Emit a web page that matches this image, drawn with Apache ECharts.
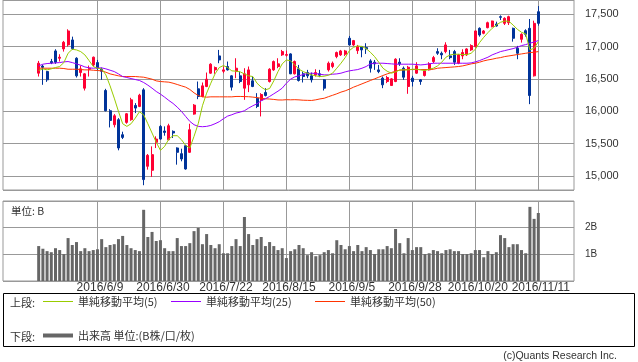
<!DOCTYPE html>
<html><head><meta charset="utf-8">
<script src="https://cdn.jsdelivr.net/npm/echarts@6/dist/echarts.min.js"></script>
<style>html,body{margin:0;padding:0;background:#fff}#c{width:638px;height:362px}</style>
</head><body><div id="c"></div>
<script>
const dates = ['2016/5/20','2016/5/23','2016/5/24','2016/5/25','2016/5/26','2016/5/27','2016/5/30','2016/5/31',
'2016/6/1','2016/6/2','2016/6/3','2016/6/6','2016/6/7','2016/6/8','2016/6/9','2016/6/10','2016/6/13','2016/6/14','2016/6/15','2016/6/16','2016/6/17','2016/6/20','2016/6/21','2016/6/22','2016/6/23','2016/6/24','2016/6/27','2016/6/28','2016/6/29','2016/6/30',
'2016/7/1','2016/7/4','2016/7/5','2016/7/6','2016/7/7','2016/7/8','2016/7/11','2016/7/12','2016/7/13','2016/7/14','2016/7/15','2016/7/19','2016/7/20','2016/7/21','2016/7/22','2016/7/25','2016/7/26','2016/7/27','2016/7/28','2016/7/29',
'2016/8/1','2016/8/2','2016/8/3','2016/8/4','2016/8/5','2016/8/8','2016/8/9','2016/8/10','2016/8/12','2016/8/15','2016/8/16','2016/8/17','2016/8/18','2016/8/19','2016/8/22','2016/8/23','2016/8/24','2016/8/25','2016/8/26','2016/8/29','2016/8/30','2016/8/31',
'2016/9/1','2016/9/2','2016/9/5','2016/9/6','2016/9/7','2016/9/8','2016/9/9','2016/9/12','2016/9/13','2016/9/14','2016/9/15','2016/9/16','2016/9/20','2016/9/21','2016/9/23','2016/9/26','2016/9/27','2016/9/28','2016/9/29','2016/9/30',
'2016/10/3','2016/10/4','2016/10/5','2016/10/6','2016/10/7','2016/10/11','2016/10/12','2016/10/13','2016/10/14','2016/10/17','2016/10/18','2016/10/19','2016/10/20','2016/10/21','2016/10/24','2016/10/25','2016/10/26','2016/10/27','2016/10/28','2016/10/31',
'2016/11/1','2016/11/2','2016/11/4','2016/11/7','2016/11/8','2016/11/9','2016/11/10','2016/11/11'];

const tickDates = ['2016/6/9','2016/6/30','2016/7/22','2016/8/15','2016/9/5','2016/9/28','2016/10/20','2016/11/11'];

const openP = [16590,16700,16615,16770,16934,16821,16965,17027,17104,16821,16600,16358,16651,16718,16754,16651,16322,16009,15793,15870,
15638,15829,15870,16091,16076,16332,15150,15088,15520,15767,15695,15561,15690,15433,15345,15468,15366,15957,16348,16230,
16384,16590,16641,16857,16620,16693,16549,16615,16549,16358,16410,16471,16204,16173,16291,16461,16641,16693,16873,16867,
16888,16580,16657,16580,16600,16549,16564,16580,16487,16641,16693,16847,16873,16883,17130,17027,16939,17001,16986,16780,
16760,16641,16513,16461,16399,16461,16760,16667,16384,16513,16590,16487,16554,16641,16770,16924,16898,16924,16857,16924,
16744,16857,16873,16950,17001,17284,17207,17294,17310,17351,17464,17361,17371,17284,16976,17114,17248,17284,16549,17541];
const closeP = [16744,16680,16487,16750,16760,16837,17068,17243,16970,16549,16657,16580,16667,16837,16667,16620,16009,15859,15931,15433,
15597,15962,16178,16050,16250,14944,15319,15330,15571,15571,15674,15777,15664,15366,15263,15108,15715,16096,16230,16394,
16497,16729,16677,16795,16641,16641,16374,16667,16461,16580,16641,16384,16076,16260,16245,16651,16770,16734,16924,16878,
16580,16770,16477,16538,16549,16487,16600,16559,16358,16744,16744,16909,16934,16934,17027,17094,17001,16950,16965,16667,
16734,16615,16410,16523,16502,16806,16734,16528,16682,16461,16703,16461,16626,16734,16831,16898,16873,17027,16831,16760,
16873,16909,16965,17017,17243,17181,17243,17371,17397,17320,17454,17438,17464,17130,16898,17191,17191,16245,17361,17361];
const lowP = [16538,16410,16456,16730,16734,16770,16924,17001,16950,16523,16538,16322,16538,16693,16631,16487,15999,15751,15751,15397,
15571,15808,15854,15973,16065,14857,15098,14985,15432,15561,15623,15551,15587,15175,15227,15098,15355,15947,16188,16219,
16374,16580,16580,16744,16590,16631,16322,16513,16436,16178,16297,16374,16050,15921,16230,16446,16626,16667,16857,16847,
16575,16570,16461,16446,16513,16446,16538,16528,16322,16615,16667,16821,16857,16857,17017,17012,16888,16836,16888,16600,
16641,16590,16358,16436,16394,16451,16703,16487,16271,16384,16580,16410,16538,16631,16744,16873,16806,16898,16806,16718,
16729,16806,16857,16934,16991,17155,17192,17284,17299,17310,17413,17335,17335,17078,16806,17063,17155,16111,16538,17325];
const highP = [16780,16720,16626,16811,16960,16883,17089,17269,17155,16837,16708,16590,16708,16847,16795,16677,16348,16034,15957,15895,
15685,15973,16209,16127,16271,16358,15340,15458,15613,15787,15767,15808,15705,15443,15422,15479,15808,16112,16461,16446,
16600,16744,16693,16950,16693,16770,16559,16821,16615,16667,16693,16538,16281,16281,16358,16667,16786,16821,16950,16940,
16898,16786,16718,16615,16641,16600,16651,16641,16497,16770,16770,16924,16950,16950,17166,17104,17027,17012,17053,16806,
16795,16718,16538,16549,16513,16821,16821,16693,16703,16549,16760,16497,16641,16760,16857,16976,16924,17068,16950,16950,
16888,16960,16976,17037,17248,17299,17258,17387,17402,17387,17484,17454,17479,17294,17012,17207,17269,17428,17402,17628];

const volume = [1.31,1.21,1.12,1.08,1.23,1.16,1.01,1.61,1.35,1.46,1.12,1.23,1.12,1.16,1.19,1.57,1.27,1.35,1.38,1.57,
1.69,1.35,1.23,1.16,1.12,2.67,1.65,1.84,1.50,1.53,1.23,1.12,1.12,1.61,1.31,1.31,1.42,1.87,1.99,1.38,
1.76,1.35,1.23,1.38,1.04,1.04,1.31,1.57,1.31,2.40,1.76,1.35,1.57,1.65,1.31,1.46,1.31,1.16,1.23,0.86,
1.12,1.19,1.35,1.23,0.97,1.08,0.93,0.97,1.08,1.16,1.04,1.53,1.35,1.19,1.31,1.12,1.35,1.12,1.27,1.16,
1.01,1.19,1.19,1.31,1.23,1.95,1.42,1.04,1.61,1.16,1.27,1.27,1.01,1.04,1.16,1.12,1.04,1.16,1.19,1.12,
1.12,1.01,1.01,1.04,1.16,1.16,0.89,1.12,1.01,1.08,1.72,1.61,1.27,1.38,1.38,1.16,1.04,2.78,2.33,2.55];

const ma5 = [16631,16657,16641,16657,16677,16693,16754,16898,16960,16950,16924,16873,16785,16693,16667,16657,16564,16394,16204,15999,
15808,15767,15808,15895,15993,15947,15808,15664,15520,15397,15458,15571,15623,15623,15561,15474,15433,15613,15808,16086,
16281,16435,16579,16677,16708,16677,16626,16621,16610,16579,16549,16538,16435,16374,16333,16353,16471,16615,16734,16795,
16780,16718,16651,16615,16590,16564,16549,16538,16543,16559,16590,16667,16744,16831,16939,16991,17012,17001,16970,16914,
16847,16760,16667,16620,16590,16610,16641,16641,16641,16651,16651,16641,16631,16651,16667,16703,16760,16837,16873,16883,
16883,16878,16878,16898,16960,17063,17145,17217,17284,17335,17377,17397,17392,17335,17269,17222,17197,16950,16976,17078];
const ma25 = [16703,16729,16739,16744,16749,16754,16765,16770,16754,16734,16713,16687,16672,16667,16672,16672,16657,16636,16615,16579,
16538,16523,16507,16492,16477,16446,16405,16358,16307,16266,16219,16168,16122,16065,15999,15921,15844,15793,15767,15762,
15767,15782,15808,15839,15885,15926,15947,15973,15988,16009,16050,16086,16117,16163,16194,16230,16271,16312,16358,16435,
16497,16533,16549,16569,16584,16590,16584,16574,16564,16564,16574,16579,16590,16610,16626,16636,16646,16667,16693,16734,
16744,16744,16744,16739,16734,16729,16729,16729,16729,16729,16724,16718,16724,16734,16744,16744,16744,16744,16744,16744,
16744,16744,16744,16749,16765,16785,16811,16837,16873,16898,16924,16939,16955,16970,16991,17017,17032,17053,17073,17094];
const ma50 = [16667,16667,16667,16667,16667,16667,16662,16651,16651,16651,16646,16641,16641,16636,16631,16626,16605,16579,16564,16549,
16538,16538,16538,16538,16533,16528,16513,16497,16471,16461,16456,16451,16435,16415,16394,16374,16338,16286,16245,16224,
16219,16224,16224,16224,16224,16224,16224,16230,16230,16228,16226,16220,16212,16202,16194,16190,16184,16176,16175,16180,
16178,16180,16177,16172,16170,16168,16178,16192,16202,16226,16248,16271,16297,16317,16343,16374,16399,16425,16451,16477,
16502,16528,16554,16579,16600,16621,16636,16641,16646,16646,16646,16646,16646,16646,16651,16667,16672,16677,16682,16687,
16693,16703,16718,16734,16744,16760,16780,16795,16806,16821,16831,16847,16857,16867,16878,16888,16898,16909,16914,16924];

const PAD = 8;
const cats = [];
for (let i = 0; i < PAD; i++) cats.push('pre' + i);
dates.forEach(d => cats.push(d));
for (let i = 0; i < PAD; i++) cats.push('post' + i);
// fine axis: one point on every category centre and every boundary
const fine = [];
for (let k = 0; k <= cats.length * 2; k++) fine.push(k % 2 === 1 ? cats[(k - 1) / 2] : 'b' + k);
const tickSet = new Set(tickDates);
const showTick = (idx, val) => tickSet.has(val);

const candle = dates.map((d, i) => [d, openP[i], closeP[i], lowP[i], highP[i]]);
const volData = dates.map((d, i) => [d, volume[i]]);
const line = arr => dates.map((d, i) => [d, arr[i]]);

const grey = '#999';
const txt = '#333';
const jp = '"Noto Sans CJK JP", sans-serif';
const lat = '"Liberation Sans", Arial, sans-serif';

const chart = echarts.init(document.getElementById('c'), null, {renderer: 'canvas'});
chart.setOption({
  animation: false,
  backgroundColor: '#fff',
  grid: [
    {left: 3, top: 0, width: 571, height: 190, show: true, borderColor: grey, borderWidth: 1, backgroundColor: 'transparent'},
    {left: 3, top: 201, width: 571, height: 80, show: true, borderColor: grey, borderWidth: 1, backgroundColor: 'transparent'}
  ],
  xAxis: [
    {type: 'category', gridIndex: 0, data: cats, boundaryGap: true, show: false, position: 'top'},
    {type: 'category', gridIndex: 1, data: cats, boundaryGap: true, show: false, position: 'top'},
    {type: 'category', gridIndex: 0, data: fine, boundaryGap: false, position: 'bottom',
      axisLine: {show: false}, axisTick: {show: false}, axisLabel: {show: false},
      splitLine: {show: true, interval: showTick, lineStyle: {color: grey, width: 1}}},
    {type: 'category', gridIndex: 1, data: fine, boundaryGap: false, position: 'bottom',
      axisLine: {show: false}, axisTick: {show: false},
      axisLabel: {show: true, interval: showTick, margin: 1, color: txt, fontSize: 12, fontFamily: lat, padding: [0, 0, 0, 5]},
      splitLine: {show: true, interval: showTick, lineStyle: {color: grey, width: 1}}}
  ],
  yAxis: [
    {type: 'value', gridIndex: 0, position: 'right', min: 14783, max: 17722, splitNumber: 5, scale: true,
      axisLine: {show: false}, axisTick: {show: false},
      axisLabel: {margin: 11, color: txt, fontSize: 11, fontFamily: lat, showMinLabel: false, showMaxLabel: false,
        formatter: v => v.toLocaleString('en-US')},
      splitLine: {show: true, lineStyle: {color: grey, width: 1}}},
    {type: 'value', gridIndex: 1, position: 'right', min: 0, max: 3, interval: 1,
      axisLine: {show: false}, axisTick: {show: false},
      axisLabel: {margin: 11, color: txt, fontSize: 10, fontFamily: lat,
        formatter: v => (v === 1 || v === 2) ? v + 'B' : ''},
      splitLine: {show: true, lineStyle: {color: grey, width: 1}}}
  ],
  legend: [
    {data: ['単純移動平均(5)'], left: 43, top: 296, padding: 0, icon: 'rect', itemWidth: 30, itemHeight: 1, selectedMode: false,
      textStyle: {color: txt, fontSize: 11, fontFamily: jp}},
    {data: ['単純移動平均(25)'], left: 171, top: 296, padding: 0, icon: 'rect', itemWidth: 30, itemHeight: 1, selectedMode: false,
      textStyle: {color: txt, fontSize: 11, fontFamily: jp}},
    {data: ['単純移動平均(50)'], left: 315, top: 296, padding: 0, icon: 'rect', itemWidth: 30, itemHeight: 1, selectedMode: false,
      textStyle: {color: txt, fontSize: 11, fontFamily: jp}},
    {data: ['出来高 単位:(B株/口/枚)'], left: 43, top: 330, padding: 0, icon: 'rect', itemWidth: 30, itemHeight: 4, selectedMode: false,
      textStyle: {color: txt, fontSize: 11, fontFamily: jp}}
  ],
  graphic: [
    {type: 'rect', shape: {x: 3.5, y: 293.5, width: 631, height: 53}, style: {fill: 'none', stroke: '#000', lineWidth: 1}, silent: true},
    {type: 'text', x: 10, y: 303, style: {text: '上段:', fill: txt, font: '11px ' + jp, verticalAlign: 'middle'}},
    {type: 'text', x: 10, y: 337, style: {text: '下段:', fill: txt, font: '11px ' + jp, verticalAlign: 'middle'}},
    {type: 'text', x: 11, y: 211, style: {text: '単位: B', fill: txt, font: '10.5px ' + jp, verticalAlign: 'middle'}},
    {type: 'text', x: 617, y: 356, style: {text: '(c)Quants Research Inc.', fill: txt, font: '10.5px ' + lat, align: 'right', verticalAlign: 'middle'}}
  ],
  series: [
    {type: 'candlestick', name: '株価', xAxisIndex: 0, yAxisIndex: 0, data: candle, encode: {x: 0, y: [1, 2, 3, 4]},
      barWidth: 2.5,
      itemStyle: {color: '#ff0033', color0: '#003399', borderColor: '#ff0033', borderColor0: '#003399', borderWidth: 1}},
    {type: 'line', name: '単純移動平均(50)', xAxisIndex: 0, yAxisIndex: 0, data: line(ma50), symbol: 'none',
      lineStyle: {color: '#ff3300', width: 1}, itemStyle: {color: '#ff3300'}},
    {type: 'line', name: '単純移動平均(25)', xAxisIndex: 0, yAxisIndex: 0, data: line(ma25), symbol: 'none',
      lineStyle: {color: '#9900ff', width: 1}, itemStyle: {color: '#9900ff'}},
    {type: 'line', name: '単純移動平均(5)', xAxisIndex: 0, yAxisIndex: 0, data: line(ma5), symbol: 'none',
      lineStyle: {color: '#99cc00', width: 1}, itemStyle: {color: '#99cc00'}},
    {type: 'bar', name: '出来高 単位:(B株/口/枚)', xAxisIndex: 1, yAxisIndex: 1, data: volData, encode: {x: 0, y: 1},
      barWidth: 3, itemStyle: {color: '#666666'}}
  ]
});
</script>
</body></html>
